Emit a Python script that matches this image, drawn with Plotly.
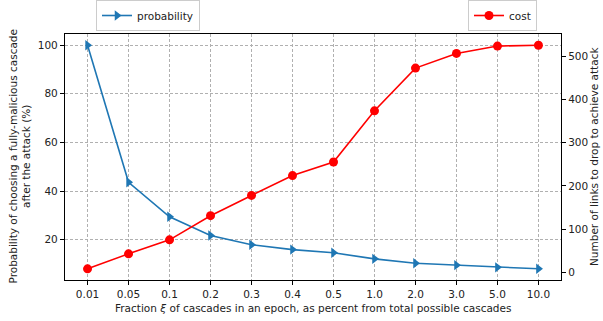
import plotly.graph_objects as go

categories = ["0.01", "0.05", "0.1", "0.2", "0.3", "0.4", "0.5", "1.0", "2.0", "3.0", "5.0", "10.0"]
probability = [100, 43.6, 29.4, 21.7, 17.9, 15.9, 14.6, 12.1, 10.3, 9.5, 8.6, 8.0]
cost = [7.9, 42.6, 75, 131, 178, 224, 255.5, 374, 473, 507, 524, 526]
left_ticks = [20, 40, 60, 80, 100]
right_ticks = [0, 100, 200, 300, 400, 500]

FONT = "DejaVu Sans"
FS = 10.5
PX0, PX1, PY0, PY1 = 65, 561, 34, 280

def px(x):
    return (x - PX0) / (PX1 - PX0)

def py(y):
    return (PY1 - y) / (PY1 - PY0)

fig = go.Figure()
fig.add_trace(go.Scatter(
    x=categories, y=probability, name="probability", mode="lines+markers",
    line=dict(color="#1f77b4", width=1.6),
    marker=dict(symbol="triangle-right", size=9, color="#1f77b4"),
    legend="legend", showlegend=True, yaxis="y"))
fig.add_trace(go.Scatter(
    x=categories, y=cost, name="cost", mode="lines+markers",
    line=dict(color="#ff0000", width=1.6),
    marker=dict(symbol="circle", size=9, color="#ff0000"),
    legend="legend2", showlegend=True, yaxis="y2"))

axis_common = dict(showline=True, linecolor="black", linewidth=1.2, ticks="outside",
                   ticklen=4, tickwidth=1, tickcolor="black", zeroline=False,
                   tickfont=dict(family=FONT, size=FS, color="#222"))

legend_common = dict(xanchor="left", yanchor="top", bgcolor="white",
                     bordercolor="#cccccc", borderwidth=1, visible=True,
                     font=dict(family=FONT, size=FS, color="#222"))

fig.update_layout(
    width=603, height=321, showlegend=True,
    margin=dict(l=PX0, r=603 - PX1, t=PY0, b=321 - PY1, autoexpand=False),
    paper_bgcolor="white", plot_bgcolor="white",
    font=dict(family=FONT, size=FS, color="#222"),
    xaxis=dict(type="category", range=[-0.55, 11.55], mirror=True,
               showgrid=True, gridcolor="#b0b0b0", griddash="3px,2px", gridwidth=0.8,
               **axis_common),
    yaxis=dict(range=[3.4, 104.6], tickvals=left_ticks, showgrid=True,
               gridcolor="#b0b0b0", griddash="3px,2px", gridwidth=0.8, **axis_common),
    yaxis2=dict(range=[-18, 552], tickvals=right_ticks, overlaying="y", side="right",
                showgrid=False, automargin=False, **axis_common),
    legend=dict(x=px(96), y=py(0), **legend_common),
    legend2=dict(x=px(468), y=py(0), **legend_common),
    annotations=[
        dict(text="Probability of choosing a fully-malicious cascade<br>after the attack (%)",
             xref="paper", yref="paper", x=px(19.5), y=0.5, textangle=-90,
             showarrow=False, xanchor="center", yanchor="middle",
             font=dict(family=FONT, size=FS, color="#222")),
        dict(text="Number of links to drop to achieve attack",
             xref="paper", yref="paper", x=px(594), y=0.5, textangle=-90,
             showarrow=False, xanchor="center", yanchor="middle",
             font=dict(family=FONT, size=FS, color="#222")),
        dict(text="Fraction <i>ξ</i> of cascades in an epoch, as percent from total possible cascades",
             xref="paper", yref="paper", x=0.5, y=py(308),
             showarrow=False, xanchor="center", yanchor="middle",
             font=dict(family=FONT, size=FS, color="#222")),
    ],
)

fig.write_html(
    "out.html",
    config={"displayModeBar": False},
    post_script="document.body.style.margin='0';document.body.style.overflow='hidden';",
)
